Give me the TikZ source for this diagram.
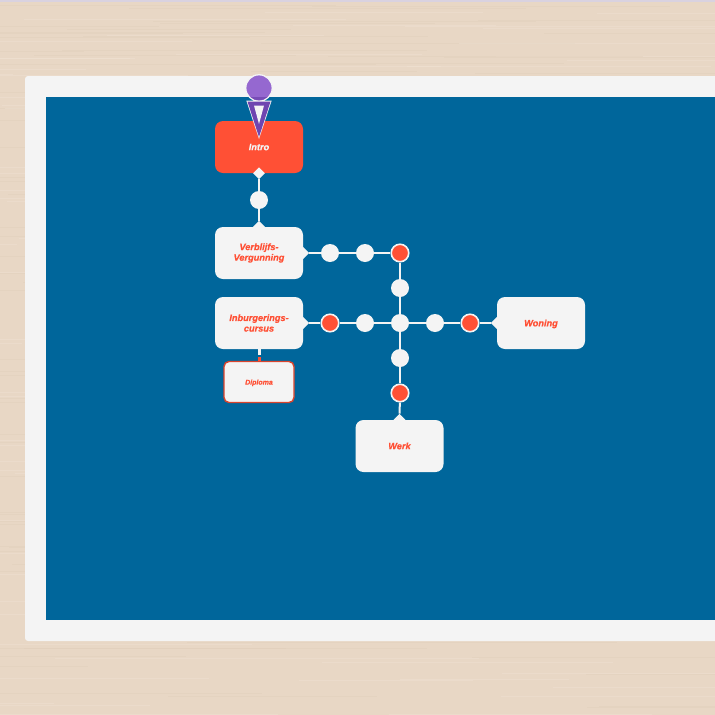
\documentclass[tikz,border=0pt]{standalone}
\usepackage{fontspec}
\setmainfont{Liberation Sans}[BoldItalicFeatures={FakeBold=0.6}]
\usetikzlibrary{shapes.geometric}
\definecolor{wood}{HTML}{E8D7C5}
\definecolor{woodA}{HTML}{DFCDB9}
\definecolor{woodB}{HTML}{F0E3D4}
\definecolor{lilac}{HTML}{D9D2E0}
\definecolor{frameW}{HTML}{F4F4F4}
\definecolor{boardB}{HTML}{00669B}
\definecolor{redO}{HTML}{FF5035}
\definecolor{purpleA}{HTML}{9568D0}
\definecolor{purpleB}{HTML}{6F45B0}
\tikzset{
  x=1pt,y=-1pt,
  card/.style={draw=none,fill=frameW,rounded corners=8pt,minimum width=88pt,minimum height=52pt,inner sep=0pt,align=center,
     font=\bfseries\itshape\fontsize{9.2}{10.6}\selectfont,text=redO,execute at begin node={\rule{0pt}{8.6pt}}},
  single/.style={execute at begin node={\rule[-2.2pt]{0pt}{2.2pt}}},
  hot/.style={card,single,fill=redO,text=frameW},
  sub/.style={card,draw=redO!85!black,line width=1.4pt,minimum width=70pt,minimum height=41pt,rounded corners=5pt,font=\bfseries\itshape\fontsize{7}{8}\selectfont,execute at begin node={\rule[-3.4pt]{0pt}{3.4pt}}},
  stop/.style={circle,fill=frameW,minimum size=18pt,inner sep=0pt},
  redstop/.style={circle,fill=redO,draw=frameW,line width=1.6pt,minimum size=17.5pt,inner sep=0pt},
  link/.style={draw=frameW,line width=2pt},
  tipd/.style={diamond,fill=frameW,minimum size=12pt,inner sep=0pt},
}
\begin{document}
\begin{tikzpicture}
\useasboundingbox (0,0) rectangle (715,715);
% wood
\fill[wood] (0,0) rectangle (715,715);
\pgfmathsetseed{11}
\foreach \i in {1,...,260}{
  \pgfmathsetmacro{\yy}{random(3,714)}
  \pgfmathsetmacro{\xa}{random(0,800)-200}
  \pgfmathsetmacro{\ln}{random(150,450)}
  \pgfmathsetmacro{\pick}{random(0,1)}
  \ifdim\pick pt>0.5pt
    \draw[woodA,line width=0.7pt,opacity=.4] (\xa,\yy) -- ++(\ln,0);
  \else
    \draw[woodB,line width=0.7pt,opacity=.4] (\xa,\yy) -- ++(\ln,0);
  \fi
}
\fill[lilac] (0,0) rectangle (715,2);
% frame and board
\fill[frameW,rounded corners=3pt] (25,76) rectangle (740,641);
\fill[boardB] (46,97) rectangle (715,620);
% nodes
\node[hot]  (intro)  at (259,147) {Intro};
\node[card] (verb)   at (259,253) {Verblijfs-\\Vergunning};
\node[card] (inb)    at (259,323) {Inburgerings-\\cursus};
\node[sub]  (dip)    at (259,382) {Diploma};
\node[card,single] (werk)   at (399.5,446) {Werk};
\node[card] (won)    at (541,323) {Woning};
\node[stop] (s1) at (259,200) {};
\node[stop] (a1) at (330,253) {};
\node[stop] (a2) at (365,253) {};
\node[redstop] (a3) at (400,253) {};
\node[stop] (b1) at (400,288) {};
\node[stop] (hub) at (400,323) {};
\node[stop] (c1) at (400,358) {};
\node[redstop] (c2) at (400,393) {};
\node[redstop] (d1) at (330,323) {};
\node[stop] (d2) at (365,323) {};
\node[stop] (e1) at (435,323) {};
\node[redstop] (e2) at (470,323) {};
% connectors
\node[tipd] (t1) at (intro.south) {};
\node[tipd] (t2) at (verb.north) {};
\node[tipd] (t3) at (verb.east) {};
\node[tipd] (t4) at (inb.east) {};
\node[tipd] (t5) at (won.west) {};
\node[tipd] (t6) at (werk.north) {};
\draw[link] (t1) -- (s1);
\draw[link] (s1) -- (t2);
\draw[link] (t3) -- (a1);
\draw[link] (a1) -- (a2);
\draw[link] (a2) -- (a3);
\draw[link] (a3) -- (b1);
\draw[link] (b1) -- (hub);
\draw[link] (hub) -- (c1);
\draw[link] (c1) -- (c2);
\draw[link] (c2) -- (t6);
\draw[link] (t4) -- (d1);
\draw[link] (d1) -- (d2);
\draw[link] (d2) -- (hub);
\draw[link] (hub) -- (e1);
\draw[link] (e1) -- (e2);
\draw[link] (e2) -- (t5);
\coordinate (m) at (259,354.5);
\draw[draw=frameW,line width=3pt] (inb.south) -- (m);
\coordinate (m2) at (259,357);
\draw[draw=redO,line width=3pt] (m2) -- (dip.north);
% marker
\node[circle,fill=purpleA,draw=frameW,line width=1.3pt,minimum size=26.5pt,inner sep=0pt] (pin) at (259,88) {};
\begin{scope}
\clip (259,88) circle (12.4);
\fill[purpleB!80!purpleA] (240,97) rectangle (280,102);
\end{scope}
\coordinate (pa) at (247.5,101.5);
\coordinate (pb) at (270.5,101.5);
\coordinate (pc) at (259,137);
\fill[frameW] (246.3,100.5) -- (271.7,100.5) -- (259,139) -- cycle;
\fill[purpleB] (pa) -- (pb) -- (pc) -- cycle;
\fill[frameW] (254,105.5) -- (264,105.5) -- (259,124) -- cycle;
\end{tikzpicture}
\end{document}
